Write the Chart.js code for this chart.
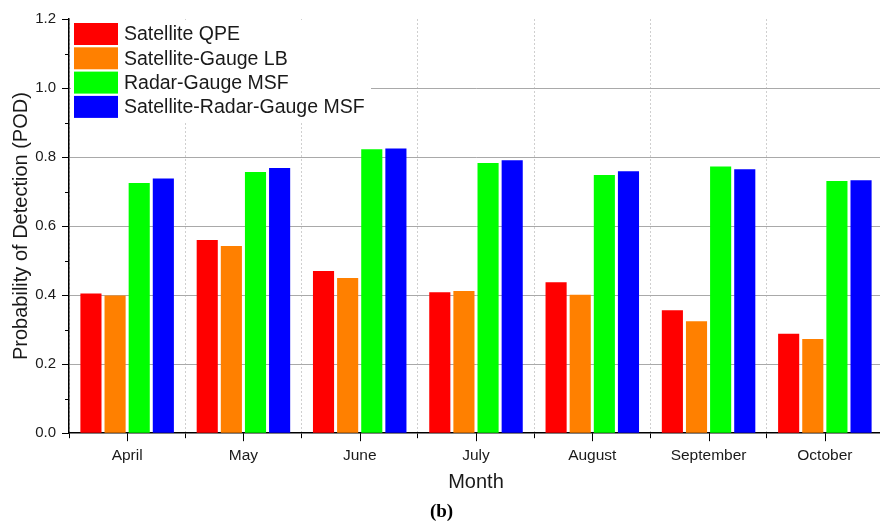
<!DOCTYPE html>
<html>
<head>
<meta charset="utf-8">
<script src="https://cdn.jsdelivr.net/npm/chart.js@4.4.0/dist/chart.umd.min.js"></script>
<style>
  html, body { margin: 0; padding: 0; background: #fff; overflow: hidden; }
  #wrap { width: 884px; height: 527px; }
</style>
</head>
<body>
<div id="wrap"><canvas id="pod-chart" width="884" height="527"></canvas></div>
<script>
const months = ['April', 'May', 'June', 'July', 'August', 'September', 'October'];
const satelliteQpe = [0.405, 0.560, 0.470, 0.408, 0.437, 0.356, 0.288];
const satelliteGaugeLb = [0.399, 0.542, 0.450, 0.412, 0.401, 0.324, 0.273];
const radarGaugeMsf = [0.725, 0.757, 0.823, 0.783, 0.748, 0.773, 0.731];
const satRadarGaugeMsf = [0.738, 0.768, 0.825, 0.791, 0.759, 0.765, 0.733];
const yTicks = [0, 0.2, 0.4, 0.6, 0.8, 1.0, 1.2];

const family = '"Liberation Sans", Arial, sans-serif';
const ink = '#1a1a1a';

// short minor ticks on y, longer ticks under each month on x
const extraTicks = {
  id: 'extraTicks',
  afterDraw(chart) {
    const { ctx, scales: { x, y } } = chart;
    ctx.save();
    ctx.strokeStyle = '#000';
    ctx.lineWidth = 1;
    ctx.beginPath();
    for (let i = 0; i < yTicks.length - 1; i++) {
      const py = Math.round(y.getPixelForValue((yTicks[i] + yTicks[i + 1]) / 2)) + 0.5;
      ctx.moveTo(y.right - 4, py);
      ctx.lineTo(y.right, py);
    }
    months.forEach((m, i) => {
      const px = Math.round(x.getPixelForValue(i)) + 0.5;
      ctx.moveTo(px, x.top);
      ctx.lineTo(px, x.top + 8);
    });
    ctx.stroke();
    ctx.restore();
  }
};

// legend box sitting inside the plot, top-left, with white background
const boxLegend = {
  id: 'boxLegend',
  afterDraw(chart) {
    const { ctx, chartArea } = chart;
    const left = chartArea.left + 2, top = chartArea.top + 1;
    const rowH = 24.3, boxW = 44, boxH = 22;
    ctx.save();
    ctx.fillStyle = '#fff';
    ctx.fillRect(left, top, 300, rowH * 4 + 4);
    ctx.font = '19.5px ' + family;
    ctx.textBaseline = 'middle';
    chart.data.datasets.forEach((ds, i) => {
      const y0 = top + 3 + i * rowH;
      ctx.fillStyle = ds.backgroundColor;
      ctx.fillRect(left + 3, y0, boxW, boxH);
      ctx.fillStyle = ink;
      ctx.fillText(ds.label, left + 53, y0 + boxH / 2 + 1);
    });
    ctx.restore();
  }
};

const barStyle = { barPercentage: 0.875, categoryPercentage: 0.83, borderWidth: 0 };

new Chart(document.getElementById('pod-chart'), {
  type: 'bar',
  data: {
    labels: months,
    datasets: [
      { label: 'Satellite QPE', data: satelliteQpe, backgroundColor: '#ff0000', ...barStyle },
      { label: 'Satellite-Gauge LB', data: satelliteGaugeLb, backgroundColor: '#ff8000', ...barStyle },
      { label: 'Radar-Gauge MSF', data: radarGaugeMsf, backgroundColor: '#00ff00', ...barStyle },
      { label: 'Satellite-Radar-Gauge MSF', data: satRadarGaugeMsf, backgroundColor: '#0000ff', ...barStyle },
    ],
  },
  options: {
    responsive: false,
    animation: false,
    layout: { padding: { top: 19, left: 0, right: 1, bottom: 0 } },
    plugins: {
      legend: { display: false },
      tooltip: { enabled: false },
      title: {
        display: true,
        text: '(b)',
        position: 'bottom',
        color: '#000',
        font: { family: '"Liberation Serif", serif', size: 19, weight: 'bold' },
        padding: { top: 0, bottom: 4 },
      },
    },
    scales: {
      x: {
        afterFit: s => { s.height = 67; },
        border: { color: '#000', width: 1.5, dash: [2, 2] },
        grid: { offset: true, color: '#cfcfcf', tickColor: '#000', tickLength: 5, lineWidth: 1 },
        ticks: { color: ink, font: { family, size: 15.5 }, padding: 8, maxRotation: 0, autoSkip: false },
        title: { display: true, text: 'Month', color: ink, font: { family, size: 20 }, padding: { top: 0, bottom: 6 } },
      },
      y: {
        min: 0,
        max: 1.2,
        afterBuildTicks: s => { s.ticks = yTicks.map(v => ({ value: v })); },
        afterFit: s => { s.width = 69; },
        border: { color: '#000', width: 1.5 },
        grid: {
          color: c => (c.tick && c.tick.value > 0 && c.tick.value < 1.2) ? '#a9a9a9' : 'rgba(0,0,0,0)',
          tickColor: '#000',
          tickLength: 7,
          lineWidth: 1,
        },
        ticks: { color: ink, font: { family, size: 15 }, padding: 6, callback: v => Number(v).toFixed(1) },
        title: { display: true, text: 'Probability of Detection (POD)', color: ink, font: { family, size: 20 }, padding: { top: 9, bottom: 0 } },
      },
    },
  },
  plugins: [extraTicks, boxLegend],
});
</script>
</body>
</html>
